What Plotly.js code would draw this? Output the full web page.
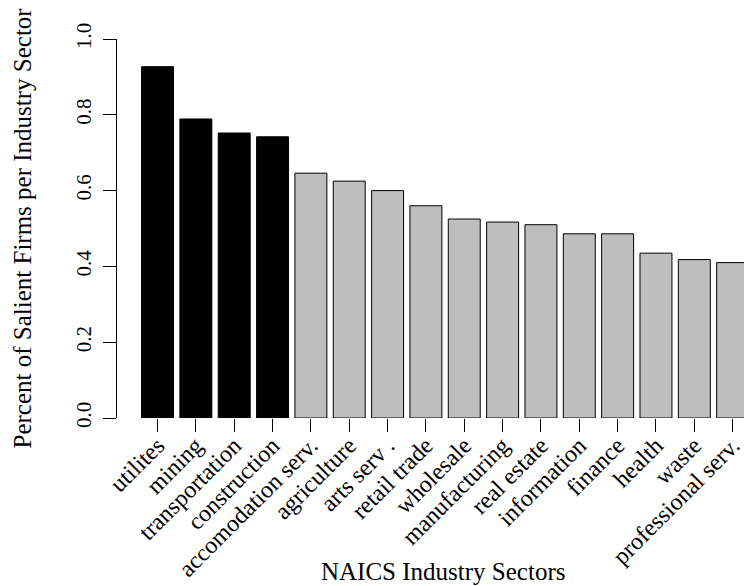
<!DOCTYPE html>
<html>
<head>
<meta charset="utf-8">
<script src="https://cdn.plot.ly/plotly-3.0.1.min.js"></script>
<style>
  html, body { margin: 0; padding: 0; background: #ffffff; }
  #chart { width: 744px; height: 586px; }
</style>
</head>
<body>
<div id="chart"></div>
<script>
var sectors = ["utilites", "mining", "transportation", "construction",
  "accomodation serv.", "agriculture", "arts serv .", "retail trade",
  "wholesale", "manufacturing", "real estate", "information", "finance",
  "health", "waste", "professional serv."];
var salientShare = [0.927, 0.789, 0.752, 0.742, 0.646, 0.625, 0.600, 0.560,
  0.525, 0.517, 0.510, 0.486, 0.486, 0.435, 0.418, 0.410];
var highlightedSectors = ["utilites", "mining", "transportation", "construction"];
var yTickValues = [0, 0.2, 0.4, 0.6, 0.8, 1.0];
var yTickLabels = ["0.0", "0.2", "0.4", "0.6", "0.8", "1.0"];
var xTitle = "NAICS Industry Sectors";
var yTitle = "Percent of Salient Firms per Industry Sector";

var FONT = "Liberation Serif";

var barColors = sectors.map(function (s) {
  return highlightedSectors.indexOf(s) >= 0 ? "#000000" : "#bebebe";
});

var trace = {
  type: "bar",
  x: sectors,
  y: salientShare,
  marker: { color: barColors, line: { color: "#000000", width: 1 } },
  hoverinfo: "x+y"
};

var layout = {
  width: 744,
  height: 586,
  margin: { l: 117, r: 0, t: 39, b: 168 },
  paper_bgcolor: "#ffffff",
  plot_bgcolor: "#ffffff",
  showlegend: false,
  bargap: 0.1667,
  font: { family: FONT, size: 23, color: "#000000" },
  xaxis: {
    type: "category",
    range: [-1.057, 15.296],
    showline: false,
    showgrid: false,
    zeroline: false,
    ticks: "outside",
    ticklen: 13,
    tickwidth: 1,
    tickcolor: "#000000",
    tickangle: -45,
    ticklabelstandoff: -10,
    tickfont: { family: FONT, size: 24, color: "#000000" },
    automargin: false
  },
  yaxis: {
    range: [0, 1],
    showline: true,
    linecolor: "#000000",
    linewidth: 1,
    showgrid: false,
    zeroline: false,
    ticks: "outside",
    ticklen: 13,
    tickwidth: 1,
    tickcolor: "#000000",
    tickvals: yTickValues,
    ticktext: yTickLabels,
    tickangle: -90,
    ticklabelstandoff: 4,
    tickfont: { family: FONT, size: 21, color: "#000000" },
    automargin: false
  },
  annotations: [
    {
      text: xTitle, xref: "paper", yref: "paper", x: 0.52, y: 0,
      xanchor: "center", yanchor: "middle", yshift: -153, showarrow: false,
      font: { family: FONT, size: 25, color: "#000000" }
    },
    {
      text: yTitle, xref: "paper", yref: "paper", x: 0, y: 0.5,
      xanchor: "center", yanchor: "middle", xshift: -95, textangle: -90,
      showarrow: false,
      font: { family: FONT, size: 25, color: "#000000" }
    }
  ]
};

Plotly.newPlot("chart", [trace], layout, { displayModeBar: false, staticPlot: true });
</script>
</body>
</html>
